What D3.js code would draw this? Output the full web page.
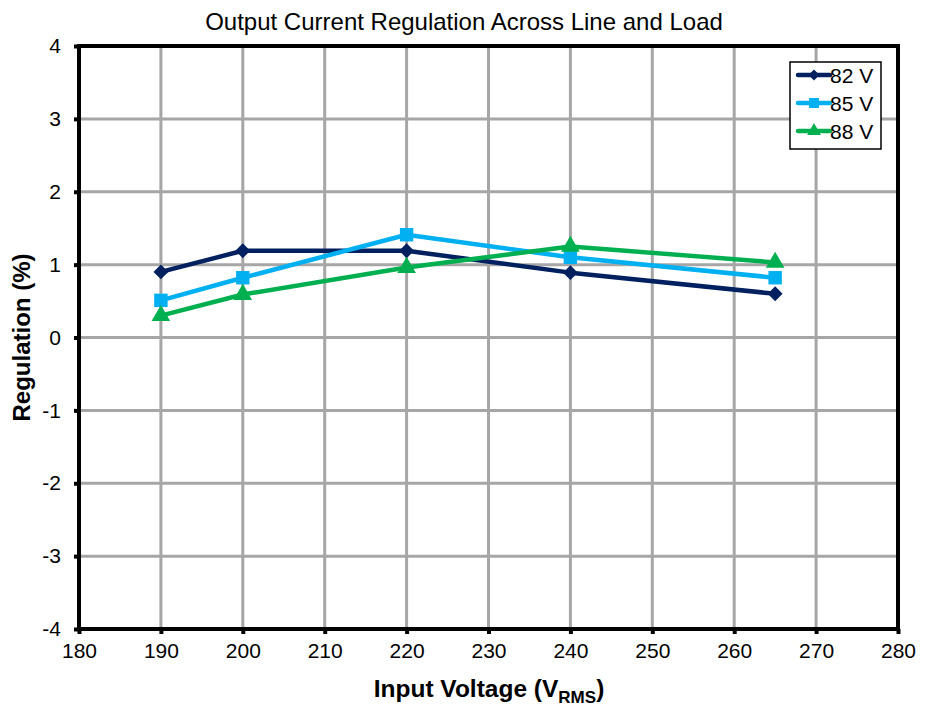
<!DOCTYPE html>
<html>
<head>
<meta charset="utf-8">
<script src="https://cdn.jsdelivr.net/npm/d3@7"></script>
<style>
  body { margin: 0; background: #fff; }
  text { font-family: "Liberation Sans", Arial, sans-serif; }
</style>
</head>
<body>
<div id="chart"></div>
<script>
var voltages = [190, 200, 220, 240, 265];
var reg82 = [0.9, 1.19, 1.19, 0.89, 0.6];
var reg85 = [0.51, 0.82, 1.41, 1.1, 0.82];
var reg88 = [0.3, 0.59, 0.96, 1.25, 1.03];
var seriesNames = ["82 V", "85 V", "88 V"];
var xTicks = [180, 190, 200, 210, 220, 230, 240, 250, 260, 270, 280];
var yTicks = [-4, -3, -2, -1, 0, 1, 2, 3, 4];

var series = [
  { name: seriesNames[0], values: reg82, color: "#002060", symbol: d3.symbolDiamond2, size: 140 },
  { name: seriesNames[1], values: reg85, color: "#00b0f0", symbol: d3.symbolSquare, size: 180 },
  { name: seriesNames[2], values: reg88, color: "#00b050", symbol: d3.symbolTriangle, size: 150 }
];

var W = 937, H = 718;
var m = { left: 79, top: 46, right: 39, bottom: 89 };

var svg = d3.select("#chart").append("svg")
  .attr("width", W)
  .attr("height", H);

var x = d3.scaleLinear().domain([180, 280]).range([m.left, W - m.right]);
var y = d3.scaleLinear().domain([-4, 4]).range([H - m.bottom, m.top]);

// grid
svg.append("g").selectAll("line.gx")
  .data(xTicks.slice(1, -1))
  .enter().append("line")
  .attr("x1", function(d) { return x(d); })
  .attr("x2", function(d) { return x(d); })
  .attr("y1", y(4)).attr("y2", y(-4))
  .attr("stroke", "#a6a6a6").attr("stroke-width", 3);

svg.append("g").selectAll("line.gy")
  .data(yTicks.slice(1, -1))
  .enter().append("line")
  .attr("x1", x(180)).attr("x2", x(280))
  .attr("y1", function(d) { return y(d); })
  .attr("y2", function(d) { return y(d); })
  .attr("stroke", "#a6a6a6").attr("stroke-width", 3);

// axes (plain hyphen for negatives, like the original)
var axisX = d3.axisBottom(x).tickValues(xTicks).tickSize(5).tickPadding(9)
  .tickFormat(function(d) { return String(d); });
var axisY = d3.axisLeft(y).tickValues(yTicks).tickSize(5).tickPadding(13)
  .tickFormat(function(d) { return String(d); });

var gx = svg.append("g")
  .attr("transform", "translate(0," + y(-4) + ")")
  .call(axisX);
var gy = svg.append("g")
  .attr("transform", "translate(" + x(180) + ",0)")
  .call(axisY);

[gx, gy].forEach(function(g) {
  g.select(".domain").remove();
  g.selectAll(".tick line").attr("stroke", "#000").attr("stroke-width", 4);
  g.selectAll(".tick text")
    .attr("fill", "#000")
    .style("font-size", "21px")
    .style("font-family", "'Liberation Sans', Arial, sans-serif");
});

// frame
svg.append("rect")
  .attr("x", x(180)).attr("y", y(4))
  .attr("width", x(280) - x(180))
  .attr("height", y(-4) - y(4))
  .attr("fill", "none")
  .attr("stroke", "#000")
  .attr("stroke-width", 4);

// lines
var line = d3.line()
  .x(function(d, i) { return x(voltages[i]); })
  .y(function(d) { return y(d); });

series.forEach(function(s) {
  svg.append("path")
    .datum(s.values)
    .attr("fill", "none")
    .attr("stroke", s.color)
    .attr("stroke-width", 4.5)
    .attr("stroke-linejoin", "round")
    .attr("d", line);

  svg.append("g").selectAll("path")
    .data(s.values)
    .enter().append("path")
    .attr("transform", function(d, i) { return "translate(" + x(voltages[i]) + "," + y(d) + ")"; })
    .attr("d", d3.symbol().type(s.symbol).size(s.size))
    .attr("fill", s.color);
});

// legend
var lg = svg.append("g").attr("transform", "translate(790,62)");
lg.append("rect")
  .attr("width", 91).attr("height", 87)
  .attr("fill", "#fff")
  .attr("stroke", "#000")
  .attr("stroke-width", 1.5);

series.forEach(function(s, i) {
  var row = lg.append("g").attr("transform", "translate(0," + (13 + i * 28) + ")");
  row.append("line")
    .attr("x1", 8).attr("x2", 40)
    .attr("stroke", s.color)
    .attr("stroke-width", 4.5)
    .attr("stroke-linecap", "round");
  row.append("path")
    .attr("transform", "translate(24,0)")
    .attr("d", d3.symbol().type(s.symbol).size(s.size * 0.55))
    .attr("fill", s.color);
  row.append("text")
    .attr("x", 40).attr("y", 7.5)
    .style("font-size", "21px")
    .text(s.name);
});

// title and axis labels
svg.append("text")
  .attr("x", 464).attr("y", 30)
  .attr("text-anchor", "middle")
  .style("font-size", "24px")
  .text("Output Current Regulation Across Line and Load");

var xl = svg.append("text")
  .attr("x", 489).attr("y", 697)
  .attr("text-anchor", "middle")
  .style("font-size", "24.5px")
  .style("font-weight", "bold")
  .text("Input Voltage (V");
xl.append("tspan")
  .attr("dy", 6)
  .style("font-size", "17px")
  .text("RMS");
xl.append("tspan")
  .attr("dy", -6)
  .text(")");

svg.append("text")
  .attr("transform", "translate(30," + y(0) + ") rotate(-90)")
  .attr("text-anchor", "middle")
  .style("font-size", "24px")
  .style("font-weight", "bold")
  .text("Regulation (%)");
</script>
</body>
</html>
